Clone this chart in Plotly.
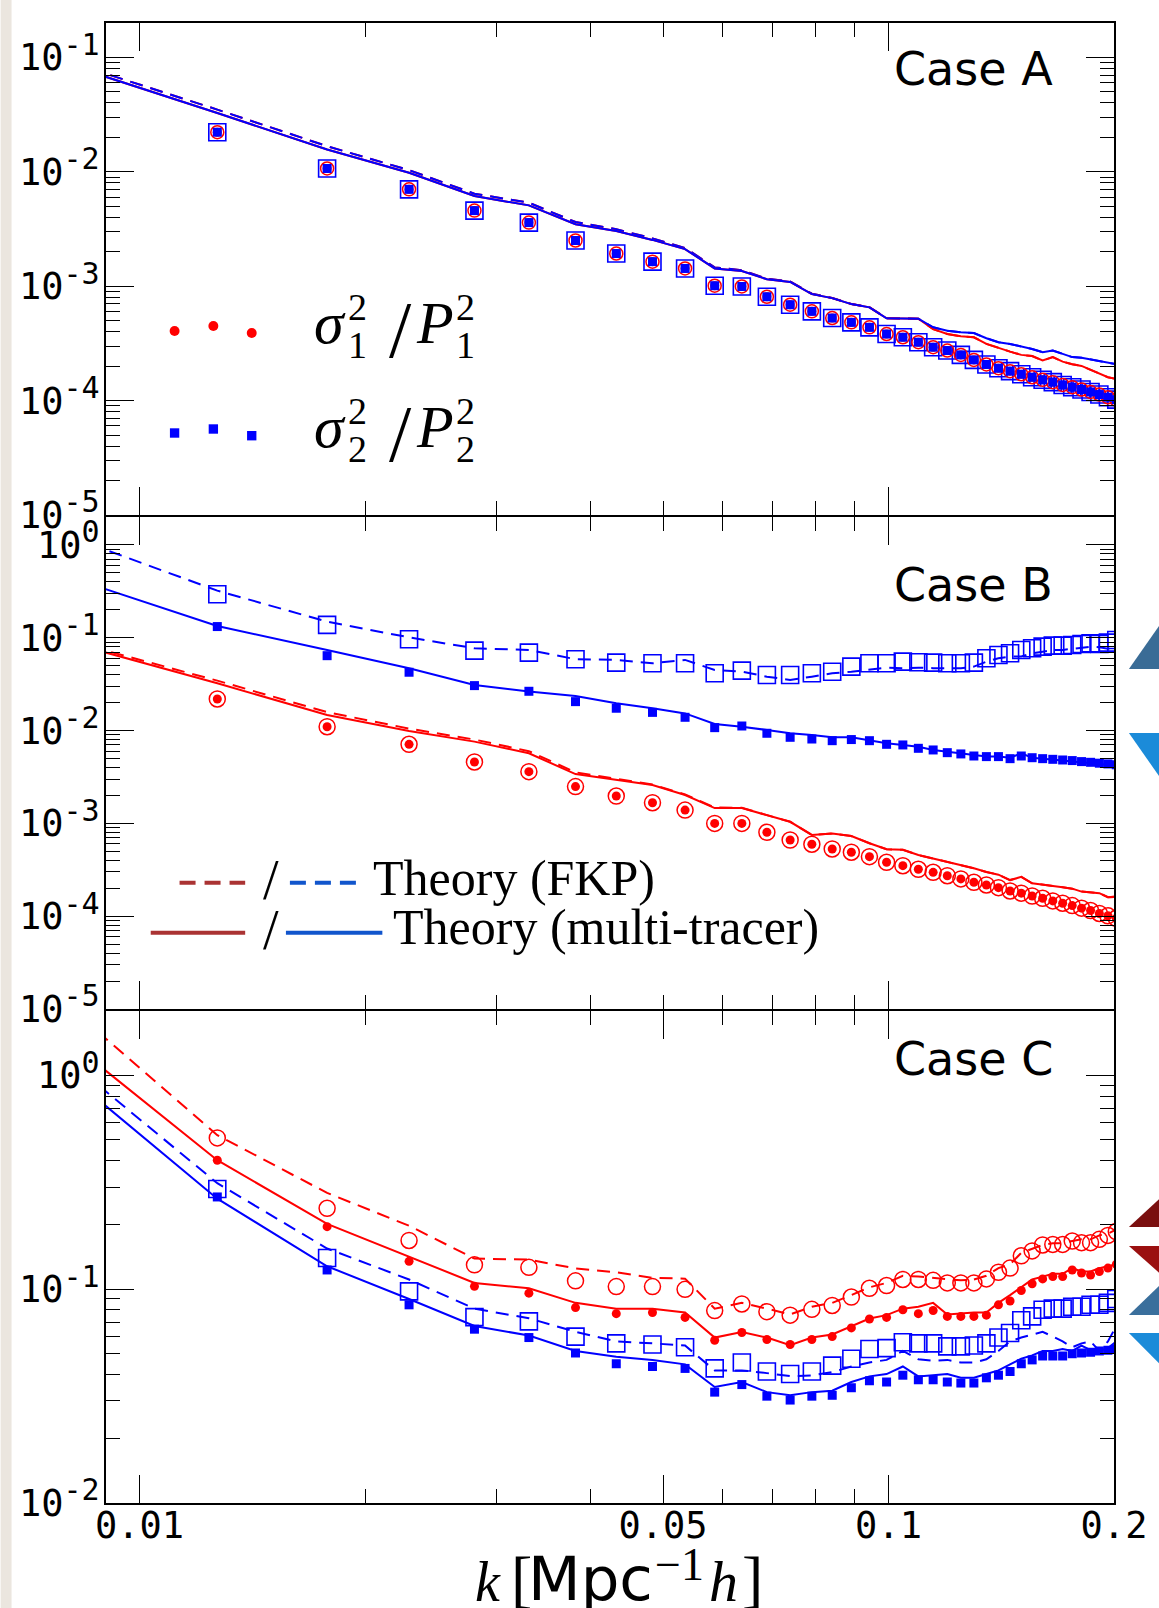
import math
import plotly.graph_objects as go

# ---------------- data ----------------
k = [0.0127, 0.0178, 0.0229, 0.0280, 0.0331, 0.0382, 0.0433, 0.0484, 0.0535, 0.0586,
     0.0637, 0.0688, 0.0739, 0.0790, 0.0841, 0.0892, 0.0943, 0.0994, 0.1045, 0.1096,
     0.1147, 0.1198, 0.1249, 0.1300, 0.1351, 0.1402, 0.1453, 0.1504, 0.1555, 0.1606,
     0.1657, 0.1708, 0.1759, 0.1810, 0.1861, 0.1912, 0.1963, 0.2014]
k_theory = [0.0076, 0.0127, 0.0178, 0.0229, 0.0280, 0.0331, 0.0382, 0.0433, 0.0484, 0.0535,
            0.0586, 0.0637, 0.0688, 0.0739, 0.0790, 0.0841, 0.0892, 0.0943, 0.0994, 0.1045,
            0.1096, 0.1147, 0.1198, 0.1249, 0.1300, 0.1351, 0.1402, 0.1453, 0.1504, 0.1555,
            0.1606, 0.1657, 0.1708, 0.1759, 0.1810, 0.1861, 0.1912, 0.1963, 0.2014]

# Case A (all four estimates coincide)
A_data = [0.0222, 0.0107, 0.00703, 0.00458, 0.00360, 0.00251, 0.00193, 0.00164, 0.00143, 0.00101,
          0.000995, 0.000809, 0.000689, 0.000603, 0.000527, 0.000483, 0.000437, 0.000382, 0.000358, 0.000324,
          0.000293, 0.000274, 0.000251, 0.000227, 0.000207, 0.000192, 0.000181, 0.000170, 0.000160, 0.000152,
          0.000145, 0.000137, 0.000131, 0.000125, 0.000119, 0.000113, 0.000107, 0.000102]
A_red_mt = [0.0972, 0.0327, 0.01567, 0.00982, 0.00614, 0.00509, 0.00348, 0.00304, 0.00254, 0.00211,
            0.00143, 0.00136, 0.00115, 0.00109, 0.000853, 0.000787, 0.000698, 0.000653, 0.000524, 0.000522,
            0.000520, 0.000422, 0.000382, 0.000365, 0.000358, 0.000313, 0.000287, 0.000268, 0.000251, 0.000245,
            0.000224, 0.000240, 0.000219, 0.000208, 0.000201, 0.000186, 0.000171, 0.000160, 0.000155]
A_blue_mt = [0.0972, 0.0327, 0.01567, 0.00982, 0.00614, 0.00509, 0.00348, 0.00304, 0.00254, 0.00211,
             0.00143, 0.00136, 0.00115, 0.00109, 0.000853, 0.000787, 0.000698, 0.000653, 0.000524, 0.000522,
             0.000520, 0.000437, 0.000408, 0.000395, 0.000390, 0.000351, 0.000324, 0.000313, 0.000298, 0.000283,
             0.000265, 0.000274, 0.000256, 0.000240, 0.000237, 0.000229, 0.000224, 0.000217, 0.000208]
A_red_fkp = [0.1032, 0.0350, 0.01675, 0.01035, 0.00644, 0.00537, 0.00364, 0.00315, 0.00262, 0.00216,
             0.00146, 0.00138, 0.00116, 0.00110, 0.000860, 0.000790, 0.000700, 0.000655, 0.000525, 0.000522,
             0.000520, 0.000422, 0.000382, 0.000365, 0.000358, 0.000313, 0.000287, 0.000268, 0.000251, 0.000245,
             0.000224, 0.000240, 0.000219, 0.000208, 0.000201, 0.000186, 0.000171, 0.000160, 0.000155]
A_blue_fkp = [0.1032, 0.0350, 0.01675, 0.01035, 0.00644, 0.00537, 0.00364, 0.00315, 0.00262, 0.00216,
              0.00146, 0.00138, 0.00116, 0.00110, 0.000860, 0.000790, 0.000700, 0.000655, 0.000525, 0.000522,
              0.000520, 0.000437, 0.000408, 0.000395, 0.000390, 0.000351, 0.000324, 0.000313, 0.000298, 0.000283,
              0.000265, 0.000274, 0.000256, 0.000240, 0.000237, 0.000229, 0.000224, 0.000217, 0.000208]

# Case B
B_red_data = [0.0219, 0.0110, 0.00711, 0.00459, 0.00361, 0.00249, 0.00197, 0.00167, 0.00139, 0.00100,
              0.00100, 0.000802, 0.000662, 0.000596, 0.000530, 0.000489, 0.000438, 0.000381, 0.000350, 0.000320,
              0.000297, 0.000273, 0.000252, 0.000232, 0.000217, 0.000203, 0.000187, 0.000177, 0.000165, 0.000156,
              0.000146, 0.000138, 0.000130, 0.000122, 0.000115, 0.000107, 0.000101, 0.0000948]
B_red_mt = [0.1013, 0.0323, 0.0147, 0.0099, 0.0076, 0.00569, 0.0034, 0.00294, 0.00259, 0.00202,
            0.00146, 0.00146, 0.00123, 0.00104, 0.00075, 0.00078, 0.00073, 0.00061, 0.000526, 0.000520,
            0.000456, 0.000418, 0.000387, 0.00036, 0.000328, 0.0003, 0.00028, 0.000245, 0.000265, 0.000226,
            0.000217, 0.000212, 0.000205, 0.000198, 0.000184, 0.000180, 0.000177, 0.00016, 0.000162]
B_red_fkp = [0.105, 0.0345, 0.0158, 0.0105, 0.0080, 0.0060, 0.00355, 0.00300, 0.00262, 0.00205,
             0.00148, 0.00147, 0.00124, 0.00104, 0.00075, 0.00078, 0.00073, 0.00061, 0.000526, 0.000520,
             0.000456, 0.000418, 0.000387, 0.00036, 0.000328, 0.0003, 0.00028, 0.000245, 0.000265, 0.000226,
             0.000217, 0.000212, 0.000205, 0.000198, 0.000184, 0.000180, 0.000177, 0.00016, 0.000162]
B_blue_fkp_data = [0.294, 0.1375, 0.0964, 0.0727, 0.0691, 0.0587, 0.0539, 0.0531, 0.0531, 0.0414,
                   0.0442, 0.0397, 0.0397, 0.0414, 0.0431, 0.0489, 0.0531, 0.0531, 0.0553, 0.0545,
                   0.0539, 0.0531, 0.0531, 0.0539, 0.0601, 0.0653, 0.0681, 0.0739, 0.0771, 0.0802,
                   0.0822, 0.0822, 0.0836, 0.0857, 0.0871, 0.0857, 0.0886, 0.0947]
B_blue_fkp = [1.463, 0.322, 0.149, 0.101, 0.077, 0.0739, 0.0587, 0.0577, 0.0531, 0.0577,
              0.045, 0.0431, 0.0381, 0.0351, 0.0381, 0.0414, 0.0431, 0.045, 0.0476, 0.047,
              0.0476, 0.047, 0.047, 0.047, 0.0489, 0.0553, 0.0601, 0.0627, 0.0627, 0.0681,
              0.0708, 0.0739, 0.0739, 0.0760, 0.0771, 0.0800, 0.0790, 0.0760, 0.0820]
B_blue_mt_data = [0.132, 0.0641, 0.0425, 0.0305, 0.0265, 0.0205, 0.0174, 0.0157, 0.0139, 0.01075,
                  0.0112, 0.00935, 0.00846, 0.00811, 0.00778, 0.0080, 0.00778, 0.00711, 0.0070, 0.00644,
                  0.00618, 0.00578, 0.0056, 0.00532, 0.00524, 0.00524, 0.00498, 0.00532, 0.0051, 0.00498,
                  0.0049, 0.00482, 0.00475, 0.00463, 0.00455, 0.00445, 0.00437, 0.00428]
B_blue_mt = [0.5245, 0.134, 0.0739, 0.0469, 0.031, 0.0263, 0.0236, 0.0197, 0.0174, 0.0153,
             0.01177, 0.0110, 0.01014, 0.00935, 0.00897, 0.00846, 0.00846, 0.00778, 0.00729, 0.0070,
             0.00671, 0.00618, 0.0059, 0.00568, 0.00545, 0.00524, 0.00524, 0.0051, 0.00568, 0.0051,
             0.00498, 0.00482, 0.00475, 0.00463, 0.00455, 0.00445, 0.00437, 0.00428, 0.00414]

# Case C
C_red_fkp_data = [0.510, 0.239, 0.169, 0.130, 0.1265, 0.1094, 0.1028, 0.1028, 0.0998, 0.0794,
                  0.0853, 0.0785, 0.0756, 0.0805, 0.0839, 0.0919, 0.101, 0.104, 0.111, 0.111,
                  0.110, 0.107, 0.107, 0.107, 0.1117, 0.120, 0.1255, 0.1433, 0.151, 0.161,
                  0.162, 0.162, 0.168, 0.165, 0.165, 0.171, 0.1785, 0.186]
C_red_fkp = [2.492, 0.525, 0.282, 0.198, 0.139, 0.1375, 0.125, 0.120, 0.113, 0.112,
             0.0811, 0.0863, 0.0811, 0.0762, 0.0828, 0.0863, 0.0938, 0.102, 0.107, 0.1155,
             0.1145, 0.113, 0.111, 0.110, 0.111, 0.1155, 0.1255, 0.1306, 0.148, 0.154,
             0.161, 0.164, 0.164, 0.168, 0.171, 0.171, 0.1785, 0.182, 0.190]
C_red_mt_data = [0.401, 0.196, 0.135, 0.1031, 0.0958, 0.082, 0.0768, 0.0778, 0.0738, 0.0577,
                 0.0627, 0.0582, 0.0551, 0.0582, 0.060, 0.0659, 0.0725, 0.0738, 0.0801, 0.0768,
                 0.0795, 0.0746, 0.0746, 0.0746, 0.0756, 0.0845, 0.0881, 0.0986, 0.106, 0.1117,
                 0.1145, 0.1145, 0.123, 0.119, 0.1165, 0.121, 0.1255, 0.1306]
C_red_mt = [1.699, 0.401, 0.202, 0.142, 0.107, 0.101, 0.0863, 0.0811, 0.0811, 0.0778,
            0.0594, 0.063, 0.0594, 0.0547, 0.0594, 0.0614, 0.0673, 0.0729, 0.0756, 0.0811,
            0.0828, 0.0863, 0.0762, 0.0770, 0.0778, 0.0778, 0.0863, 0.0938, 0.102, 0.111,
            0.1145, 0.118, 0.118, 0.1255, 0.121, 0.121, 0.1255, 0.128, 0.1306]
C_blue_fkp_data = [0.294, 0.140, 0.0977, 0.074, 0.0707, 0.060, 0.0558, 0.0551, 0.0535, 0.0426,
                   0.0454, 0.0412, 0.0401, 0.0412, 0.0439, 0.0473, 0.0525, 0.053, 0.0565, 0.0558,
                   0.0558, 0.054, 0.054, 0.0545, 0.0558, 0.0594, 0.0624, 0.0716, 0.0746, 0.0801,
                   0.0811, 0.0811, 0.0828, 0.0828, 0.0845, 0.0845, 0.0863, 0.090]
C_blue_fkp = [1.377, 0.313, 0.155, 0.111, 0.0811, 0.0731, 0.0632, 0.057, 0.0558, 0.0545,
              0.0417, 0.0417, 0.0405, 0.0392, 0.0395, 0.0409, 0.0435, 0.0454, 0.0467, 0.0514,
              0.047, 0.0462, 0.0467, 0.0454, 0.0454, 0.047, 0.0514, 0.057, 0.0594, 0.0615,
              0.0632, 0.0600, 0.057, 0.0535, 0.0558, 0.057, 0.0514, 0.057, 0.0673]
C_blue_mt_data = [0.270, 0.123, 0.0845, 0.065, 0.0594, 0.0503, 0.0448, 0.0435, 0.0426, 0.033,
                  0.0358, 0.0316, 0.0303, 0.0316, 0.0319, 0.0346, 0.0373, 0.0368, 0.0396, 0.0377,
                  0.0377, 0.0368, 0.0364, 0.0364, 0.0385, 0.0396, 0.0412, 0.0448, 0.0467, 0.0487,
                  0.0487, 0.0487, 0.0499, 0.0503, 0.0507, 0.0514, 0.0518, 0.0525]
C_blue_mt = [1.183, 0.265, 0.128, 0.090, 0.0673, 0.0607, 0.0514, 0.0483, 0.0467, 0.0445,
             0.0349, 0.0368, 0.033, 0.0319, 0.033, 0.0335, 0.0368, 0.0391, 0.0401, 0.0435,
             0.0391, 0.0396, 0.0401, 0.0385, 0.0385, 0.0401, 0.0417, 0.0445, 0.0473, 0.049,
             0.0514, 0.0514, 0.0525, 0.0514, 0.0545, 0.0518, 0.0514, 0.0530, 0.057]

case_labels = ["Case A", "Case B", "Case C"]
x_tick_vals = [0.01, 0.05, 0.1, 0.2]
x_tick_text = ["0.01", "0.05", "0.1", "0.2"]

# ---------------- geometry helpers ----------------
W, H = 1159, 1608
ML, MR, MT, MB = 106, 39, 23, 105
PL, PR, PT, PB = ML, W - MR, MT, H - MB
PH = PB - PT  # 1480


def xp(px):
    return (px - PL) / (PR - PL)


def yp(py):
    return (PB - py) / (PB - PT)


RED = "#ff0000"
BLUE = "#0000ff"
DASH = "13px,8px"

fig = go.Figure()


def add_line(x, y, color, dash, n):
    fig.add_trace(go.Scatter(x=x, y=y, mode="lines",
                             line=dict(color=color, width=2, dash=dash),
                             xaxis="x" + n, yaxis="y" + n, showlegend=False, hoverinfo="skip"))


def add_marks(x, y, symbol, size, color, n, lw=0):
    fig.add_trace(go.Scatter(x=x, y=y, mode="markers",
                             marker=dict(symbol=symbol, size=size, color=color,
                                         line=dict(color=color, width=lw)),
                             xaxis="x" + n, yaxis="y" + n, showlegend=False,
                             cliponaxis=True, hoverinfo="skip"))


# Case A (axes x/y)
add_line(k_theory, A_red_fkp, RED, DASH, "")
add_line(k_theory, A_blue_fkp, BLUE, DASH, "")
add_line(k_theory, A_red_mt, RED, "solid", "")
add_line(k_theory, A_blue_mt, BLUE, "solid", "")
add_marks(k, A_data, "circle", 9, RED, "")
add_marks(k, A_data, "square-open", 17, BLUE, "", 1.6)
add_marks(k, A_data, "circle-open", 13, RED, "", 1.5)
add_marks(k, A_data, "square", 9, BLUE, "")

# Case B (axes x2/y2)
add_line(k_theory, B_red_fkp, RED, DASH, "2")
add_line(k_theory, B_red_mt, RED, "solid", "2")
add_line(k_theory, B_blue_fkp, BLUE, DASH, "2")
add_line(k_theory, B_blue_mt, BLUE, "solid", "2")
add_marks(k, B_red_data, "circle-open", 16, RED, "2", 1.5)
add_marks(k, B_red_data, "circle", 9, RED, "2")
add_marks(k, B_blue_fkp_data, "square-open", 17, BLUE, "2", 1.6)
add_marks(k, B_blue_mt_data, "square", 9, BLUE, "2")

# Case C (axes x3/y3)
add_line(k_theory, C_red_fkp, RED, DASH, "3")
add_line(k_theory, C_red_mt, RED, "solid", "3")
add_line(k_theory, C_blue_fkp, BLUE, DASH, "3")
add_line(k_theory, C_blue_mt, BLUE, "solid", "3")
add_marks(k, C_red_fkp_data, "circle-open", 16, RED, "3", 1.5)
add_marks(k, C_red_mt_data, "circle", 9, RED, "3")
add_marks(k, C_blue_fkp_data, "square-open", 17, BLUE, "3", 1.6)
add_marks(k, C_blue_mt_data, "square", 9, BLUE, "3")

# ---------------- axes ----------------
xrange = [math.log10(0.00902), math.log10(0.2)]
minor_x_all = [0.02, 0.03, 0.04, 0.05, 0.06, 0.07, 0.08, 0.09, 0.2]
minor_x_c = [0.02, 0.03, 0.04, 0.06, 0.07, 0.08, 0.09]
tickfont_y = dict(family="DejaVu Sans Mono", size=37, color="black")
tickfont_x = dict(family="DejaVu Sans Mono", size=37, color="black")
AXW = 2


def xaxis_cfg(anchor, bottom):
    d = dict(type="log", range=xrange, anchor=anchor, domain=[0, 1],
             showline=True, linecolor="black", linewidth=AXW, mirror="ticks",
             ticks="inside", tickcolor="black", tickwidth=1.3, ticklen=28,
             showgrid=False, zeroline=False, tickmode="array")
    if bottom:
        d.update(tickvals=x_tick_vals, ticktext=x_tick_text, showticklabels=True,
                 tickfont=tickfont_x, ticklabelstandoff=-11,
                 minor=dict(tickmode="array", tickvals=minor_x_c, ticks="inside",
                            ticklen=14, tickwidth=1.3, tickcolor="black", showgrid=False))
    else:
        d.update(tickvals=[0.01, 0.1], showticklabels=False,
                 minor=dict(tickmode="array", tickvals=minor_x_all, ticks="inside",
                            ticklen=14, tickwidth=1.3, tickcolor="black", showgrid=False))
    return d


def yaxis_cfg(anchor, dom, lo_exp, hi_exp):
    majors = [10.0 ** e for e in range(lo_exp, hi_exp + 1)]
    texts = ["10<sup><span style='font-size:30px'>%d</span></sup>" % e
             for e in range(lo_exp, hi_exp + 1)]
    minors = [m * 10.0 ** e for e in range(lo_exp, hi_exp + 1) for m in range(2, 10)]
    top = 10.0 ** hi_exp * 2
    minors = [v for v in minors if v <= top * 1.0001]
    return dict(type="log", range=[lo_exp, math.log10(top)], anchor=anchor, domain=dom,
                showline=True, linecolor="black", linewidth=AXW, mirror="ticks",
                ticks="inside", tickcolor="black", tickwidth=1.3, ticklen=28,
                showgrid=False, zeroline=False, tickmode="array",
                tickvals=majors, ticktext=texts, tickfont=tickfont_y,
                ticklabelstandoff=-3,
                minor=dict(tickmode="array", tickvals=minors, ticks="inside",
                           ticklen=14, tickwidth=1.3, tickcolor="black", showgrid=False))


# panel boundaries: leave a 2 px gap so the outward-drawn frame lines of
# neighbouring panels land on the same pixels (one thin shared line)
fig.update_layout(
    width=W, height=H,
    margin=dict(l=ML, r=MR, t=MT, b=MB, pad=0),
    paper_bgcolor="white", plot_bgcolor="white",
    showlegend=False,
    xaxis=xaxis_cfg("y", False),
    xaxis2=xaxis_cfg("y2", False),
    xaxis3=xaxis_cfg("y3", True),
    yaxis=yaxis_cfg("x", [988.0 / PH, 1.0], -5, -1),
    yaxis2=yaxis_cfg("x2", [494.0 / PH, 986.0 / PH], -5, 0),
    yaxis3=yaxis_cfg("x3", [0.0, 492.0 / PH], -2, 0),
)

# ---------------- decorations ----------------
shapes = []
# beige page edge on the left
shapes.append(dict(type="rect", xref="paper", yref="paper", x0=xp(0), x1=xp(11),
                   y0=yp(H), y1=yp(0), fillcolor="#ebe6df", line=dict(width=0), layer="below"))

# legend glyphs for sigma^2/P^2 (Case A)
for (cx, cy) in [(175, 331), (214, 326), (252.6, 333)]:
    r = 5
    shapes.append(dict(type="circle", xref="paper", yref="paper",
                       x0=xp(cx - r), x1=xp(cx + r), y0=yp(cy + r), y1=yp(cy - r),
                       fillcolor=RED, line=dict(width=0)))
for (cx, cy) in [(175, 433), (214, 429), (252.6, 435.7)]:
    r = 4.7
    shapes.append(dict(type="rect", xref="paper", yref="paper",
                       x0=xp(cx - r), x1=xp(cx + r), y0=yp(cy + r), y1=yp(cy - r),
                       fillcolor=BLUE, line=dict(width=0)))

# legend line samples (Case B)
LEG_RED = "#aa3333"
LEG_BLUE = "#1155cc"
for (x0, x1, yy, col, dash) in [(180, 246, 882.7, LEG_RED, "16px,9px"),
                                 (291, 362, 882.7, LEG_BLUE, "16px,9px"),
                                 (151, 246, 932.7, LEG_RED, "solid"),
                                 (287, 384, 932.7, LEG_BLUE, "solid")]:
    shapes.append(dict(type="line", xref="paper", yref="paper",
                       x0=xp(x0), x1=xp(x1), y0=yp(yy), y1=yp(yy),
                       line=dict(color=col, width=4, dash=dash)))

# slide arrows on the right edge


def tri(pts, color):
    path = "M " + " L ".join("%f,%f" % (xp(a), yp(b)) for a, b in pts) + " Z"
    return dict(type="path", xref="paper", yref="paper", path=path,
                fillcolor=color, line=dict(width=0))


shapes.append(tri([(1135, 669), (1185, 669), (1185, 598)], "#3a6c96"))
shapes.append(tri([(1135, 733), (1185, 733), (1185, 804)], "#1b8bd9"))
shapes.append(tri([(1135, 1227), (1185, 1227), (1185, 1181)], "#7a0f0f"))
shapes.append(tri([(1135, 1246), (1185, 1246), (1185, 1290)], "#9b1010"))
shapes.append(tri([(1135, 1315), (1185, 1315), (1185, 1267)], "#3a6f9c"))
shapes.append(tri([(1135, 1333), (1185, 1333), (1185, 1383)], "#1b8bd9"))

fig.update_layout(shapes=shapes)

# ---------------- text annotations ----------------
anns = []


def text(t, x_left, y_center, family, size, color="black"):
    anns.append(dict(text=t, xref="paper", yref="paper", x=xp(x_left), y=yp(y_center),
                     xanchor="left", yanchor="middle", showarrow=False,
                     font=dict(family=family, size=size, color=color)))


SANS = "DejaVu Sans"
SERIF = "Liberation Serif"

text(case_labels[0], 897, 69, SANS, 46)
text(case_labels[1], 897, 585, SANS, 46)
text(case_labels[2], 897, 1059, SANS, 46)

# sigma^2_i / P^2_i legend text
for (dy, sub) in [(0, "1"), (104, "2")]:
    text("<i>σ</i>", 313, 322.7 + dy, SERIF, 60)
    text("2", 347, 307.2 + dy, SERIF, 38)
    text(sub, 347, 345.2 + dy, SERIF, 38)
    text("/", 389, 330 + dy, SERIF, 80)
    text("<i>P</i>", 416, 322.7 + dy, SERIF, 60)
    text("2", 456, 307.2 + dy, SERIF, 38)
    text(sub, 456, 345.2 + dy, SERIF, 38)

# theory legend text
text("/", 262, 880, SERIF, 56)
text("Theory (FKP)", 373, 878.1, SERIF, 50)
text("/", 262, 930, SERIF, 56)
text("Theory (multi-tracer)", 393, 927.1, SERIF, 50)

# x-axis title  k [Mpc^-1 h]
text("<i>k</i>", 475, 1581.8, SERIF, 56)
text("[", 511, 1578, SERIF, 64)
text("Mpc", 528, 1579, SANS, 61)
text("−1", 656, 1564, SERIF, 46)
text("<i>h</i>", 711, 1581.8, SERIF, 58)
text("]", 744, 1578, SERIF, 64)

fig.update_layout(annotations=anns)

fig.write_html("out.html")
